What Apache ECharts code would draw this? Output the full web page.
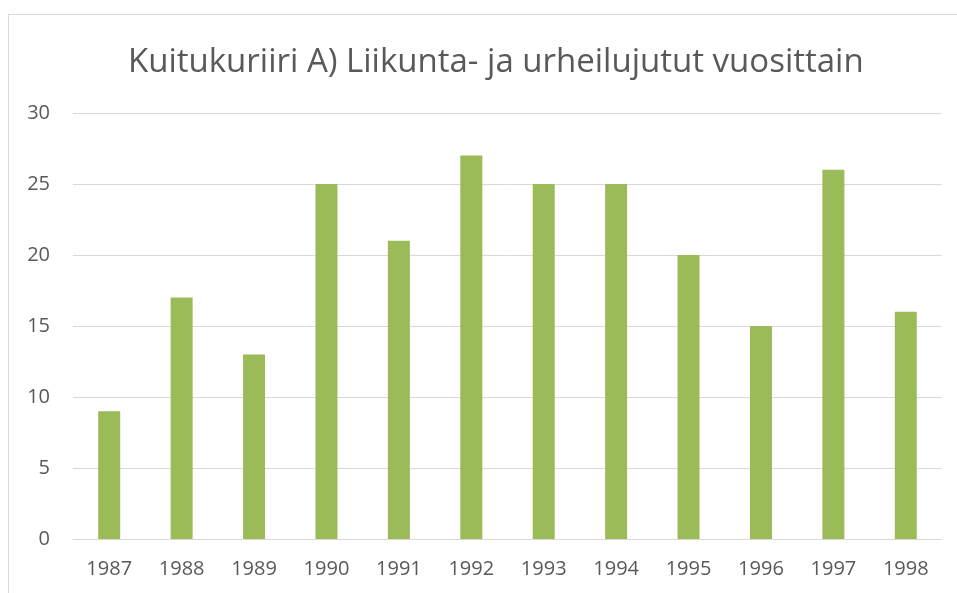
<!DOCTYPE html>
<html>
<head>
<meta charset="utf-8">
<script src="https://cdn.jsdelivr.net/npm/echarts@6/dist/echarts.min.js"></script>
<style>
  html, body { margin: 0; padding: 0; background: #fff; }
  #frame { position: absolute; left: 8px; top: 14px; width: 960px; height: 600px;
           border: 1px solid #d9d9d9; box-sizing: border-box; }
  #main { position: absolute; left: 0; top: 0; width: 957px; height: 593px; }
</style>
</head>
<body>
<div id="frame"></div>
<div id="main"></div>
<script>
var titleText = 'Kuitukuriiri A) Liikunta- ja urheilujutut vuosittain';
var years = ['1987', '1988', '1989', '1990', '1991', '1992', '1993', '1994', '1995', '1996', '1997', '1998'];
var stories = [9, 17, 13, 25, 21, 27, 25, 25, 20, 15, 26, 16];
var yTicks = [0, 5, 10, 15, 20, 25, 30];

var chart = echarts.init(document.getElementById('main'));
var option = {
    animation: false,
    title: {
        text: titleText,
        left: 123,
        top: 41,
        textStyle: {
            fontFamily: 'Open Sans',
            fontWeight: 'normal',
            fontSize: 33,
            color: '#595959'
        }
    },
    grid: {
        left: 73,
        right: 15,
        top: 113,
        bottom: 54
    },
    xAxis: {
        type: 'category',
        data: years,
        axisLine: { show: true, lineStyle: { color: '#d9d9d9', width: 1 } },
        axisTick: { show: false },
        axisLabel: {
            color: '#595959',
            fontFamily: 'Open Sans',
            fontSize: 20,
            margin: 20
        }
    },
    yAxis: {
        type: 'value',
        min: yTicks[0],
        max: yTicks[yTicks.length - 1],
        interval: 5,
        axisLine: { show: false },
        axisTick: { show: false },
        axisLabel: {
            color: '#595959',
            fontFamily: 'Open Sans',
            fontSize: 20,
            margin: 23
        },
        splitLine: { lineStyle: { color: '#d9d9d9', width: 1 } }
    },
    series: [{
        type: 'bar',
        data: stories,
        barWidth: 22,
        itemStyle: { color: '#9bbb59' }
    }]
};
chart.setOption(option);
</script>
</body>
</html>
